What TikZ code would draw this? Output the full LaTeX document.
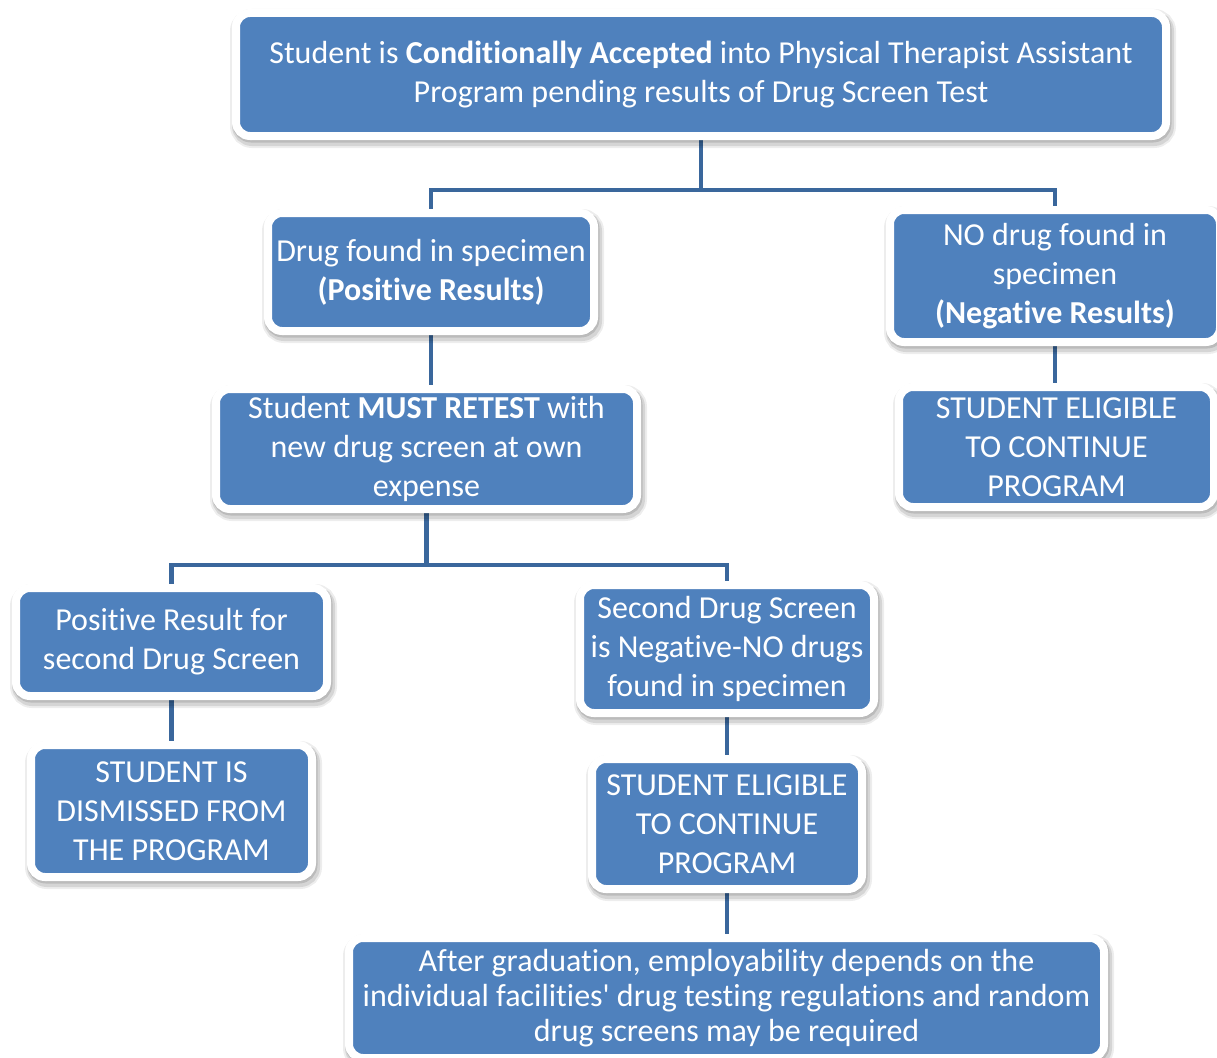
\documentclass[tikz,border=0pt]{standalone}
\usepackage{fontspec}
\setmainfont{Carlito}[Ligatures={NoCommon,NoRequired,NoContextual}]
\usetikzlibrary{shadows,backgrounds}
\definecolor{boxblue}{HTML}{4F81BD}
\definecolor{lineblue}{HTML}{3A679C}
\begin{document}
\begin{tikzpicture}[x=1pt,y=-1pt,
  box/.style={draw=white, line width=8pt, fill=boxblue, rounded corners=14pt,
    text=white, align=center, inner sep=0pt,
    font=\fontsize{32}{39}\selectfont,
    drop shadow={shadow xshift=2pt, shadow yshift=-4pt, opacity=0.07, draw=black, line width=16pt},
    drop shadow={shadow xshift=2pt, shadow yshift=-4pt, opacity=0.10, draw=black, line width=12pt},
    drop shadow={shadow xshift=1pt, shadow yshift=-2pt, opacity=0.12, draw=black, line width=9pt}},
  conn/.style={draw=lineblue, line width=4.5pt}]
\useasboundingbox (0,0) rectangle (1217,1057);
\node[box, minimum width=930pt, minimum height=123pt] (top) at (701,74.5)
  {Student is \textbf{Conditionally Accepted} into Physical Therapist Assistant\\Program pending results of Drug Screen Test};
\node[box, minimum width=326pt, minimum height=118pt] (pos) at (431,272)
  {Drug found in specimen\\\textbf{(Positive Results)}};
\node[box, minimum width=330pt, minimum height=132pt] (neg) at (1055,276)
  {NO drug found in\\specimen\\\textbf{(Negative Results)}};
\node[box, minimum width=315pt, minimum height=120pt] (eligR) at (1056.5,447)
  {STUDENT ELIGIBLE\\TO CONTINUE\\PROGRAM};
\node[box, minimum width=421pt, minimum height=120pt] (retest) at (426.5,449)
  {Student \textbf{MUST RETEST} with\\new drug screen at own\\expense};
\node[box, minimum width=311pt, minimum height=108pt] (pos2) at (171.5,642)
  {Positive Result for\\second Drug Screen};
\node[box, minimum width=281pt, minimum height=132pt] (dism) at (171.5,811)
  {STUDENT IS\\DISMISSED FROM\\THE PROGRAM};
\node[box, minimum width=294pt, minimum height=128pt] (neg2) at (727,649)
  {Second Drug Screen\\is Negative-NO drugs\\found in specimen};
\node[box, minimum width=270pt, minimum height=130pt] (eligC) at (727,824)
  {STUDENT ELIGIBLE\\TO CONTINUE\\PROGRAM};
\node[box, minimum width=755pt, minimum height=120pt, font=\fontsize{32}{35}\selectfont] (after) at (726.5,998)
  {After graduation, employability depends on the\\individual facilities\textquotesingle\ drug testing regulations and random\\drug screens may be required};
\coordinate (j1) at (701,190);
\coordinate (j2) at (428,565);
\begin{scope}[on background layer]
\draw[conn] (top.south) -- (j1);
\draw[conn] (pos.north) |- (j1) -| (neg.north);
\draw[conn] (pos.south) -- (pos.south |- retest.north);
\draw[conn] (neg.south) -- (neg.south |- eligR.north);
\draw[conn] (retest.south) -- (retest.south |- j2);
\draw[conn] (pos2.north) |- (j2) -| (neg2.north);
\draw[conn] (pos2.south) -- (dism.north);
\draw[conn] (neg2.south) -- (eligC.north);
\draw[conn] (eligC.south) -- (eligC.south |- after.north);
\end{scope}
\end{tikzpicture}
\end{document}
